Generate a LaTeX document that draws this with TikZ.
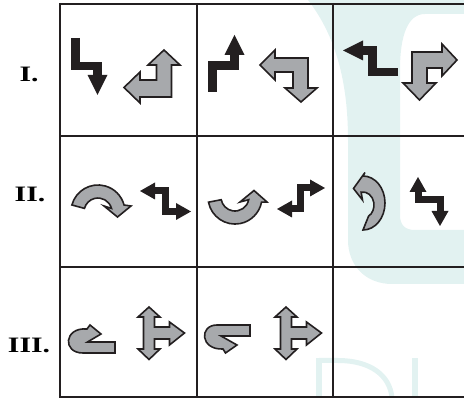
\documentclass[tikz,border=0pt]{standalone}
\usepackage{fontspec}
\usepackage{graphicx}
\setmainfont{Liberation Serif}
\usetikzlibrary{arrows.meta}
\definecolor{gridblack}{RGB}{35,31,32}
\definecolor{arrowgray}{RGB}{167,169,172}
\definecolor{marklight}{RGB}{226,242,241}
\tikzset{
  gridline/.style={draw=gridblack, line width=2.2pt},
  grayarrow/.style={fill=arrowgray, draw=gridblack, line width=1.6pt, line join=miter},
  bigblack/.style={draw=gridblack, line width=8.5pt, line join=miter,
    -{Triangle[width=20pt,length=20pt,line width=0pt]}},
  smallblack/.style={draw=gridblack, line width=7pt, line join=miter,
    {Triangle[width=17pt,length=15pt,line width=0pt]}-{Triangle[width=17pt,length=15pt,line width=0pt]}},
  rowlabel/.style={font=\bfseries\fontsize{22}{22}\selectfont, inner sep=0pt}
}
\begin{document}
\begin{tikzpicture}[x=1pt,y=1pt,yscale=-1]
\useasboundingbox (0,0) rectangle (464,398);
\fill[marklight] (308,0) -- (464,0) -- (464,14) -- (425,14)
  .. controls (408,14) and (400,35) .. (400,70) -- (400,215)
  .. controls (400,225) and (405,230) .. (415,230) -- (464,230) -- (464,284) -- (392,284)
  .. controls (366,284) and (348,266) .. (348,240) -- (348,140)
  .. controls (348,80) and (335,35) .. (308,0) -- cycle;
\fill[marklight] (316,358) rectangle (322,398);
\fill[marklight] (412,358) rectangle (418,398);
\draw[marklight, line width=5pt] (319,360.5) -- (338,360.5) .. controls (370,360.5) and (390,375) .. (392,398);

\foreach \y in {4,136,267,397.5}
  \draw[gridline] (59,\y) -- (464,\y);
\foreach \x in {60,197,333}
  \draw[gridline] (\x,3) -- (\x,398);

\node[rowlabel] (labI) at (29,74) {\scalebox{1.35}[1]{I.}};
\node[rowlabel] (labII) at (30,194) {\scalebox{1.35}[1]{II.}};
\node[rowlabel] (labIII) at (29,345) {\scalebox{1.35}[1]{III.}};

\draw[bigblack] (75.5,38) -- (75.5,66) -- (97.5,66) -- (97.5,95);
\filldraw[grayarrow] (164,50) -- (180,65) -- (171.5,65) -- (171.5,97) -- (140,97) -- (140,103)
  -- (124,87.5) -- (140,72) -- (140,80) -- (156.5,80) -- (156.5,65) -- (148,65) -- cycle;
\draw[bigblack] (212.5,92) -- (212.5,65.5) -- (234.5,65.5) -- (234.5,35);
\filldraw[grayarrow] (260,65) -- (275,50) -- (275,58) -- (308,58) -- (308,88) -- (317,88)
  -- (301,102) -- (285,88) -- (293,88) -- (293,72) -- (275,72) -- (275,80) -- cycle;
\draw[bigblack] (398,72) -- (372.5,72) -- (372.5,50.5) -- (343,50.5);
\filldraw[grayarrow] (457,60) -- (442,44) -- (442,52) -- (412,52) -- (412,83) -- (403,83)
  -- (419.5,100) -- (436,83) -- (427,83) -- (427,68) -- (442,68) -- (442,76) -- cycle;

\filldraw[grayarrow] (71.9,205) arc[start angle=195, end angle=345, radius=27]
  -- (131,206) -- (117.5,217) -- (104,206) -- (111.5,208.4)
  arc[start angle=345, end angle=195, radius=14] -- cycle;
\draw[smallblack] (140,191) -- (165.5,191) -- (165.5,211.5) -- (191,211.5);
\filldraw[grayarrow] (208.5,202.2) arc[start angle=169, end angle=11, radius=27]
  -- (267,202) -- (254,190.5) -- (240,202) -- (248.7,199.7)
  arc[start angle=11, end angle=169, radius=14] -- cycle;
\draw[smallblack] (277,209) -- (300.5,209) -- (300.5,188) -- (325,188);
\filldraw[grayarrow] (363,230) arc[start angle=90, end angle=-90, x radius=22, y radius=27]
  -- (365,172.5) -- (353.5,188.5) -- (362.5,200) -- (361.1,192.2)
  arc[start angle=-100, end angle=60, x radius=11, y radius=13] -- cycle;
\draw[smallblack] (418,177) -- (418,200) -- (440,200) -- (440,226);

\filldraw[grayarrow] (115,342) -- (87.5,342) -- (101,334) -- (90,325) -- (87,329)
  .. controls (64,327) and (62,353) .. (83,353) -- (115,353) -- cycle;
\filldraw[grayarrow] (250,336) -- (221,336) -- (237,345) -- (225.5,353) -- (223,349)
  .. controls (200,350) and (199,325) .. (217,325) -- (250,325) -- cycle;
\foreach \dx in {0,137}
  \filldraw[grayarrow,xshift=\dx pt] (149,307) -- (160,317) -- (154.5,317) -- (154.5,327)
    -- (169.5,327) -- (169.5,322) -- (184.5,333) -- (169.5,345) -- (169.5,339) -- (154.5,339)
    -- (154.5,349) -- (160,349) -- (149,359.5) -- (138,349) -- (143.5,349) -- (143.5,317)
    -- (138,317) -- cycle;
\end{tikzpicture}
\end{document}
